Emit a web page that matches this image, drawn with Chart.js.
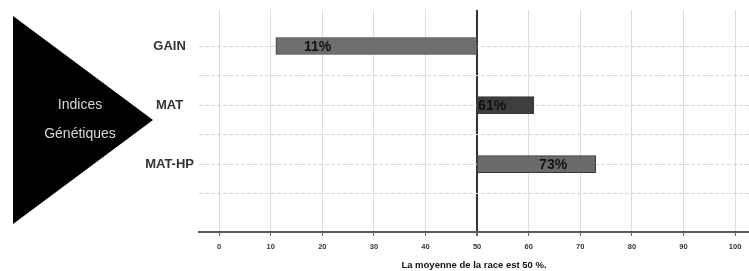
<!DOCTYPE html>
<html>
<head>
<meta charset="utf-8">
<script src="https://cdn.jsdelivr.net/npm/chart.js@4.4.1/dist/chart.umd.min.js"></script>
<style>
  html, body { margin: 0; padding: 0; background: #fff; }
  #wrap { position: relative; width: 749px; height: 271px; }
</style>
</head>
<body>
<div id="wrap"><canvas id="chart"></canvas></div>
<script>
// Data
const categories = ['GAIN', 'MAT', 'MAT-HP'];
const catPos     = [1, 2, 3];
const values     = [11, 61, 73];   // index value, in %
const breedMean  = 50;             // bars start from the breed mean
const xTicks     = [0, 10, 20, 30, 40, 50, 60, 70, 80, 90, 100];
const yGrid      = [1, 1.5, 2, 2.5, 3, 3.5];
const barLabels  = ['11%', '61%', '73%'];

const FONT = "'Liberation Sans', Arial, sans-serif";

// big black arrow with "Indices Génétiques"
const arrowPlugin = {
  id: 'arrow',
  beforeDraw(chart) {
    const ctx = chart.ctx;
    ctx.save();
    ctx.fillStyle = '#000';
    ctx.beginPath();
    ctx.moveTo(13, 16);
    ctx.lineTo(13, 224);
    ctx.lineTo(153, 120);
    ctx.closePath();
    ctx.fill();
    ctx.fillStyle = '#d8d8d8';
    ctx.font = '14px ' + FONT;
    ctx.textAlign = 'center';
    ctx.textBaseline = 'middle';
    ctx.fillText('Indices', 80, 105);
    ctx.fillText('Génétiques', 80, 134);
    ctx.restore();
  }
};

// percentage text inside bars
const labelPlugin = {
  id: 'barText',
  afterDatasetsDraw(chart, args, opts) {
    const ctx = chart.ctx;
    const meta = chart.getDatasetMeta(0);
    ctx.save();
    ctx.fillStyle = '#111';
    ctx.font = 'bold 14px ' + FONT;
    ctx.textAlign = 'left';
    ctx.textBaseline = 'middle';
    meta.data.forEach((bar, i) => {
      const left = Math.min(bar.x, bar.base);
      ctx.fillText(barLabels[i], left + opts.offsets[i], bar.y + 1);
    });
    ctx.restore();
  }
};

new Chart(document.getElementById('chart'), {
  type: 'bar',
  data: {
    labels: categories,
    datasets: [{
      data: values.map((v, i) => ({ x: [Math.min(v, breedMean), Math.max(v, breedMean)], y: catPos[i] })),
      backgroundColor: ['#6e6e6e', '#3e3e3e', '#6a6a6a'],
      borderColor: '#3a3a3a',
      borderWidth: 1,
      borderSkipped: false,
      barThickness: 17,
    }]
  },
  options: {
    indexAxis: 'y',
    responsive: true,
    maintainAspectRatio: false,
    animation: false,
    layout: { padding: { top: 10, right: 0, left: 0, bottom: 0 } },
    plugins: {
      legend: { display: false },
      tooltip: { enabled: false },
      barText: { offsets: [28, 1, 62] },
    },
    scales: {
      x: {
        type: 'linear',
        min: -3.9,
        max: 102.7,
        afterBuildTicks: s => { s.ticks = xTicks.map(v => ({ value: v })); },
        afterFit: s => { s.height = 39; },
        border: { display: true, color: '#5a5a5a', width: 2 },
        grid: {
          color: c => (c.tick && c.tick.value === breedMean) ? '#333' : '#dcdcdc',
          lineWidth: c => (c.tick && c.tick.value === breedMean) ? 2 : 1,
          tickLength: 4,
          tickColor: '#666',
        },
        ticks: {
          color: '#333',
          padding: 6,
          maxRotation: 0,
          font: { family: FONT, size: 7.5, weight: 'bold' },
        },
        title: {
          display: true,
          text: 'La moyenne de la race est 50 %.',
          color: '#111',
          padding: { top: 0, bottom: 0 },
          font: { family: FONT, size: 9.5, weight: 'bold' },
        },
      },
      y: {
        type: 'linear',
        reverse: true,
        offset: false,
        min: 0.39,
        max: 4.15,
        afterBuildTicks: s => { s.ticks = yGrid.map(v => ({ value: v })); },
        afterFit: s => { s.width = 199; s.paddingTop = 0; s.paddingBottom = 0; },
        border: { display: false, dash: [4, 2] },
        grid: {
          offset: false,
          color: '#d4d4d4',
          lineWidth: 1,
          drawTicks: false,
        },
        ticks: {
          color: '#333',
          padding: 5,
          crossAlign: 'center',
          font: { family: FONT, size: 13, weight: 'bold' },
          callback: v => { const i = catPos.indexOf(v); return i >= 0 ? categories[i] : ''; },
        },
      },
    },
  },
  plugins: [arrowPlugin, labelPlugin],
});
</script>
</body>
</html>
